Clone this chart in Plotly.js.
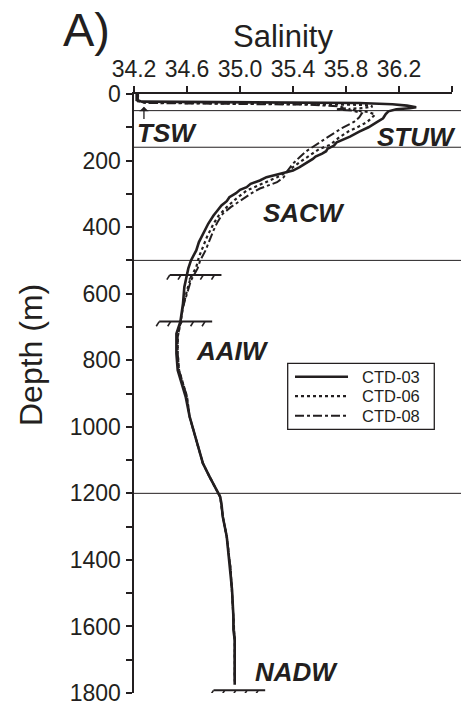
<!DOCTYPE html>
<html>
<head>
<meta charset="utf-8">
<script src="https://cdn.plot.ly/plotly-3.0.1.min.js"></script>
<style>html,body{margin:0;padding:0;background:#fff;}#plot{width:461px;height:720px;}</style>
</head>
<body>
<div id="plot"></div>
<script>
// ---- data ----
const seriesNames = ["CTD-03", "CTD-06", "CTD-08"];

const ctd03Depth = [0, 10, 18, 23, 24, 25, 27, 31, 35, 40, 43, 46, 52, 60, 73, 85, 100, 113, 128, 145, 155, 165, 172, 179, 188, 195, 203, 209, 220, 230, 239, 245, 250, 260, 270, 280, 288, 298, 310, 322, 335, 350, 365, 390, 419, 445, 470, 500, 524, 544, 580, 629, 660, 684, 720, 780, 830, 870, 910, 970, 1040, 1110, 1150, 1185, 1210, 1230, 1270, 1330, 1370, 1430, 1490, 1570, 1610, 1640, 1700, 1775];
const ctd03Sal = [34.22, 34.22, 34.22, 34.26, 34.80, 35.40, 35.90, 36.15, 36.26, 36.33, 36.28, 36.18, 36.12, 36.10, 36.08, 36.03, 35.97, 35.90, 35.83, 35.73, 35.71, 35.66, 35.65, 35.62, 35.57, 35.55, 35.52, 35.50, 35.45, 35.40, 35.30, 35.25, 35.20, 35.15, 35.08, 35.05, 35.00, 34.97, 34.92, 34.90, 34.86, 34.83, 34.80, 34.76, 34.72, 34.69, 34.67, 34.63, 34.61, 34.60, 34.58, 34.57, 34.56, 34.55, 34.52, 34.52, 34.53, 34.56, 34.59, 34.62, 34.67, 34.72, 34.77, 34.82, 34.85, 34.86, 34.87, 34.90, 34.91, 34.93, 34.94, 34.95, 34.95, 34.96, 34.96, 34.96];

const ctd06Depth = [0, 12, 20, 26, 28, 30, 32, 34, 38, 42, 45, 48, 54, 62, 70, 84, 97, 112, 130, 153, 165, 185, 205, 220, 235, 250, 265, 278, 290, 315, 340, 365, 390, 430, 460, 490, 520, 550, 590, 640, 690, 730, 780, 830, 870, 910, 970, 1040, 1110, 1150, 1185, 1210, 1270, 1330, 1430, 1490, 1570, 1640, 1700, 1770];
const ctd06Sal = [34.23, 34.23, 34.23, 34.28, 34.90, 35.50, 35.85, 35.98, 36.00, 35.93, 35.82, 35.85, 35.97, 36.02, 36.00, 35.96, 35.90, 35.82, 35.75, 35.68, 35.60, 35.52, 35.45, 35.40, 35.35, 35.28, 35.20, 35.12, 35.05, 34.97, 34.90, 34.84, 34.80, 34.75, 34.72, 34.69, 34.67, 34.63, 34.60, 34.57, 34.55, 34.53, 34.53, 34.54, 34.57, 34.60, 34.62, 34.67, 34.72, 34.77, 34.82, 34.85, 34.87, 34.90, 34.93, 34.94, 34.95, 34.96, 34.96, 34.96];

const ctd08Depth = [0, 12, 22, 27, 29, 32, 37, 43, 46, 50, 58, 70, 84, 100, 125, 153, 172, 190, 209, 230, 250, 265, 284, 300, 320, 340, 360, 385, 410, 440, 470, 500, 524, 560, 600, 640, 690, 730, 780, 830, 870, 910, 970, 1040, 1110, 1150, 1185, 1210, 1270, 1330, 1430, 1490, 1570, 1640, 1700, 1760];
const ctd08Sal = [34.23, 34.23, 34.23, 34.30, 35.00, 35.50, 35.75, 35.80, 35.72, 35.85, 35.92, 35.90, 35.86, 35.78, 35.68, 35.57, 35.50, 35.45, 35.40, 35.36, 35.33, 35.28, 35.15, 35.08, 35.00, 34.93, 34.87, 34.83, 34.80, 34.77, 34.74, 34.70, 34.68, 34.63, 34.60, 34.57, 34.55, 34.53, 34.53, 34.54, 34.57, 34.60, 34.62, 34.67, 34.72, 34.77, 34.82, 34.85, 34.87, 34.90, 34.93, 34.94, 34.95, 34.96, 34.96, 34.96];

// water-mass boundaries (depth, m)
const boundaryDepths = [50, 160, 500, 1200];
// water-mass labels
const massNames = ["TSW", "STUW", "SACW", "AAIW", "NADW"];
const massSal = [34.45, 36.33, 35.48, 34.94, 35.43];
const massDepth = [118, 128, 358, 772, 1736];
// hatched level marks: depth, salinity start, salinity end
const hatchDepth = [544, 684, 1792];
const hatchSal0 = [34.45, 34.37, 34.78];
const hatchSal1 = [34.86, 34.79, 35.19];

const xTicks = [34.2, 34.6, 35.0, 35.4, 35.8, 36.2, 36.6];
const xTickText = ["34.2", "34.6", "35.0", "35.4", "35.8", "36.2", ""];
const yTicks = [0, 200, 400, 600, 800, 1000, 1200, 1400, 1600, 1800];

// ---- build ----
const ink = "#231f20";
const FONT = "Liberation Sans, Arial, sans-serif";
const styles = [
  {color: ink, width: 2.6, dash: "solid"},
  {color: ink, width: 2.2, dash: "dot"},
  {color: ink, width: 2.0, dash: "dashdot"}
];
const traces = [
  {x: ctd03Sal, y: ctd03Depth, name: seriesNames[0], mode: "lines", line: styles[0]},
  {x: ctd06Sal, y: ctd06Depth, name: seriesNames[1], mode: "lines", line: styles[1]},
  {x: ctd08Sal, y: ctd08Depth, name: seriesNames[2], mode: "lines", line: styles[2]}
];

const shapes = boundaryDepths.map(d => ({
  type: "line", xref: "paper", yref: "y", x0: 0, x1: 1.03, y0: d, y1: d,
  line: {color: ink, width: 1}
}));
const hatchFracs = [0, 0.216, 0.432, 0.648, 0.864];
hatchDepth.forEach((d, i) => {
  const s0 = hatchSal0[i], s1 = hatchSal1[i];
  shapes.push({type: "line", xref: "x", yref: "y", x0: s0 + 0.02, x1: s1, y0: d, y1: d, line: {color: ink, width: 2}});
  hatchFracs.forEach(f => {
    const s = s0 + 0.02 + f * (s1 - s0 - 0.02);
    shapes.push({type: "line", xref: "x", yref: "y", x0: s, x1: s - 0.022, y0: d, y1: d + 14, line: {color: ink, width: 1.6}});
  });
});

// legend drawn as box + samples + text (paper coordinates)
const legBox = {x0: 0.4833, x1: 0.9443, y0: 0.4402, y1: 0.5504};
const legRows = [0.528, 0.4955, 0.463];
shapes.push({type: "rect", xref: "paper", yref: "paper", x0: legBox.x0, x1: legBox.x1, y0: legBox.y0, y1: legBox.y1,
  line: {color: ink, width: 1.3}, fillcolor: "#fff", layer: "above"});
legRows.forEach((ry, i) => {
  shapes.push({type: "line", xref: "paper", yref: "paper", x0: 0.5063, x1: 0.673, y0: ry, y1: ry,
    line: {color: styles[i].color, width: styles[i].width, dash: styles[i].dash}, layer: "above"});
});

const annotations = massNames.map((t, i) => ({
  x: massSal[i], y: massDepth[i], xref: "x", yref: "y", text: "<b><i>" + t + "</i></b>",
  showarrow: false, font: {family: FONT, size: 26, color: ink}
}));
annotations.push({
  x: 34.275, y: 38, ax: 34.275, ay: 80, xref: "x", yref: "y", axref: "x", ayref: "y",
  text: "", showarrow: true, arrowhead: 1, arrowsize: 1.2, arrowwidth: 1.3, arrowcolor: ink
});
annotations.push({
  x: (86 - 134) / 318, y: (693 - 30) / 599, xref: "paper", yref: "paper", text: "A)", showarrow: false,
  xanchor: "center", yanchor: "middle", font: {family: FONT, size: 47, color: ink}
});
// axis titles placed as in the reference
annotations.push({
  x: (283 - 134) / 318, y: (693 - 37) / 599, xref: "paper", yref: "paper", text: "Salinity", showarrow: false,
  xanchor: "center", yanchor: "middle", font: {family: FONT, size: 31, color: ink}
});
annotations.push({
  x: (31 - 134) / 318, y: (693 - 355) / 599, xref: "paper", yref: "paper", text: "Depth (m)", showarrow: false,
  textangle: -90, xanchor: "center", yanchor: "middle", font: {family: FONT, size: 32, color: ink}
});
seriesNames.forEach((n, i) => {
  annotations.push({x: 0.7107, y: legRows[i], xref: "paper", yref: "paper", text: n, showarrow: false,
    xanchor: "left", yanchor: "middle", font: {family: FONT, size: 16.5, color: ink}});
});

const layout = {
  width: 461, height: 720,
  margin: {l: 134, r: 9, t: 94, b: 27, pad: 0},
  paper_bgcolor: "#fff", plot_bgcolor: "#fff",
  font: {family: FONT, color: ink},
  showlegend: false,
  xaxis: {
    side: "top", range: [34.2, 36.6], tickvals: xTicks, ticktext: xTickText,
    ticks: "outside", ticklen: 6, tickwidth: 2, tickcolor: ink,
    showline: true, linewidth: 2, linecolor: ink, showgrid: false, zeroline: false,
    tickfont: {family: FONT, size: 23, color: ink}
  },
  yaxis: {
    range: [1800, 0], tickvals: yTicks,
    ticks: "outside", ticklen: 6, tickwidth: 2, tickcolor: ink,
    minor: {ticks: "outside", ticklen: 6, tickwidth: 2, tickcolor: ink, tickvals: [100, 300, 500, 700, 900, 1100, 1300, 1500, 1700]},
    showline: true, linewidth: 2.5, linecolor: ink, showgrid: false, zeroline: false,
    tickfont: {family: FONT, size: 23, color: ink}
  },
  shapes: shapes,
  annotations: annotations
};

Plotly.newPlot("plot", traces, layout, {displayModeBar: false, staticPlot: true});
</script>
</body>
</html>
